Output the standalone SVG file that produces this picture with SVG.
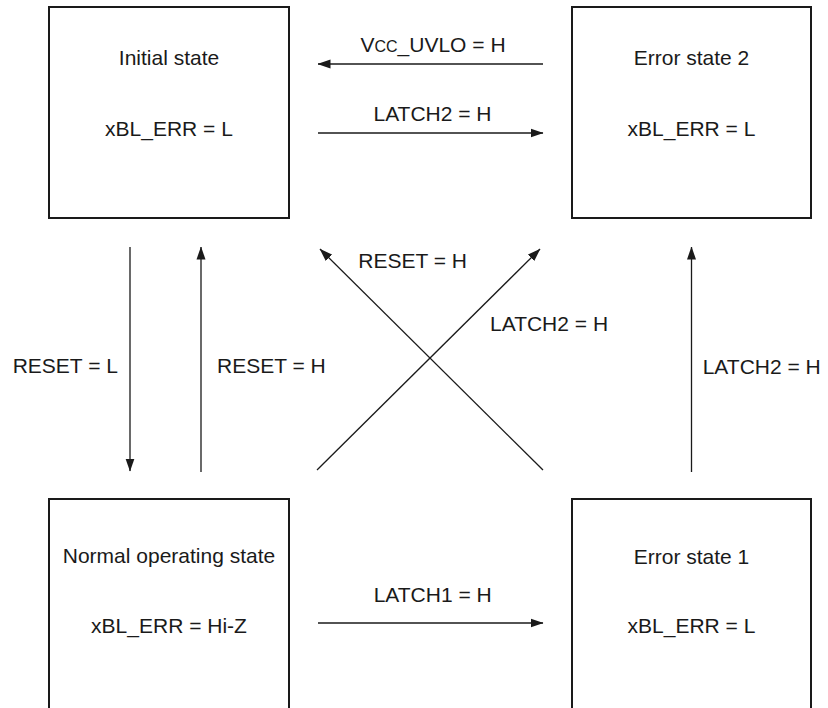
<svg xmlns="http://www.w3.org/2000/svg" width="828" height="708" viewBox="0 0 828 708">
  <style>
    .box { fill: #ffffff; stroke: #1a1a1a; stroke-width: 2; }
    .lbl { font-family: "Liberation Sans", Arial, sans-serif; font-size: 21px; fill: #1a1a1a; }
    .mid { text-anchor: middle; }
    .conn { fill: none; stroke: #1a1a1a; stroke-width: 1.3; marker-end: url(#ah); }
    .sc { font-size: 16px; }
  </style>
  <defs>
    <marker id="ah" markerUnits="userSpaceOnUse" markerWidth="13" markerHeight="10" viewBox="0 0 13 10" refX="12.5" refY="5" orient="auto">
      <path d="M0,0.5 L13,5 L0,9.5 Z" fill="#1a1a1a"/>
    </marker>
  </defs>
  <rect width="828" height="708" fill="#ffffff"/>

  <g id="initial-state">
    <rect class="box" x="49" y="7" width="240" height="211"/>
    <text class="lbl mid" x="169" y="65">Initial state</text>
    <text class="lbl mid" x="169" y="136">xBL_ERR = L</text>
  </g>
  <g id="error-state-2">
    <rect class="box" x="572" y="7" width="239" height="211"/>
    <text class="lbl mid" x="691.5" y="65">Error state 2</text>
    <text class="lbl mid" x="691.5" y="136">xBL_ERR = L</text>
  </g>
  <g id="normal-operating-state">
    <rect class="box" x="49" y="499" width="240" height="230"/>
    <text class="lbl mid" x="169" y="563">Normal operating state</text>
    <text class="lbl mid" x="169" y="633">xBL_ERR = Hi-Z</text>
  </g>
  <g id="error-state-1">
    <rect class="box" x="572" y="499" width="239" height="230"/>
    <text class="lbl mid" x="691.5" y="564">Error state 1</text>
    <text class="lbl mid" x="691.5" y="633">xBL_ERR = L</text>
  </g>

  <g id="connectors">
    <line class="conn" x1="543" y1="64" x2="318" y2="64"/>
    <line class="conn" x1="318" y1="133" x2="543" y2="133"/>
    <line class="conn" x1="318" y1="623" x2="543" y2="623"/>
    <line class="conn" x1="130" y1="247" x2="130" y2="471"/>
    <line class="conn" x1="201" y1="472" x2="201" y2="247"/>
    <line class="conn" x1="691.5" y1="472" x2="691.5" y2="247"/>
    <line class="conn" x1="317" y1="470" x2="540" y2="249"/>
    <line class="conn" x1="543" y1="470" x2="320" y2="249"/>
  </g>

  <g id="connector-labels">
    <text class="lbl mid" x="433" y="52">V<tspan class="sc">CC</tspan>_UVLO = H</text>
    <text class="lbl mid" x="432.5" y="121">LATCH2 = H</text>
    <text class="lbl mid" x="432.7" y="602">LATCH1 = H</text>
    <text class="lbl" x="12.7" y="373">RESET = L</text>
    <text class="lbl" x="217" y="373">RESET = H</text>
    <text class="lbl" x="358.3" y="268">RESET = H</text>
    <text class="lbl" x="490" y="331">LATCH2 = H</text>
    <text class="lbl" x="702.7" y="374">LATCH2 = H</text>
  </g>
</svg>
